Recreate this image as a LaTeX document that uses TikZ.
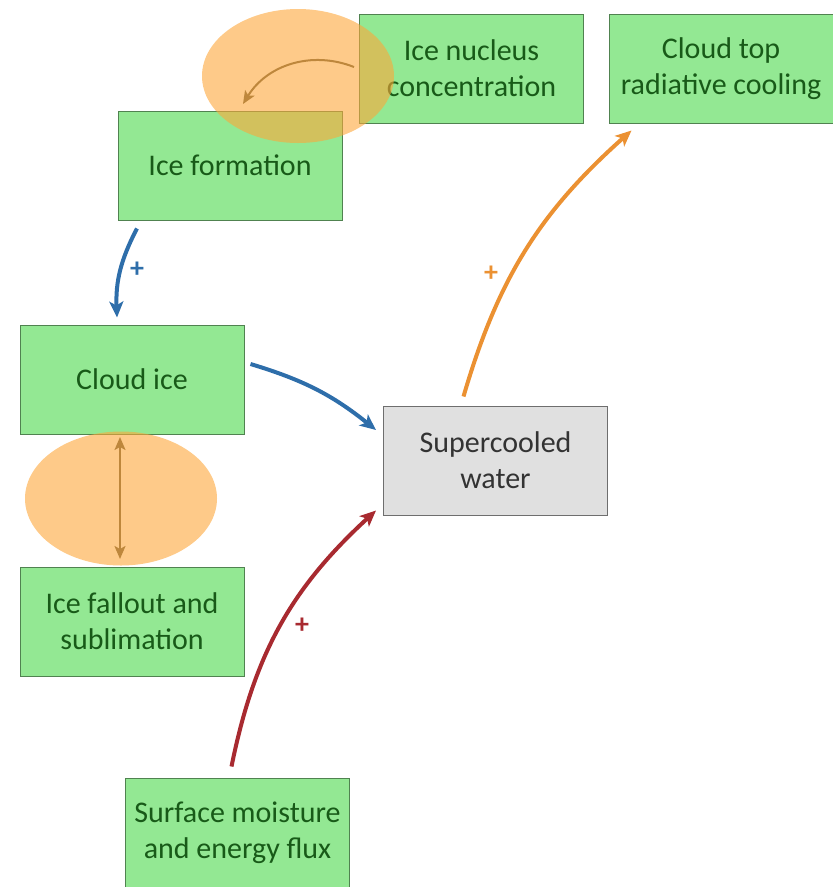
\documentclass[tikz,border=0pt]{standalone}
\usepackage{fontspec}
\setmainfont{Carlito}
\usetikzlibrary{arrows.meta}
\definecolor{boxgreen}{RGB}{147,232,147}
\definecolor{boxedge}{RGB}{80,130,80}
\definecolor{textgreen}{RGB}{24,90,24}
\definecolor{boxgray}{RGB}{224,224,224}
\definecolor{grayedge}{RGB}{110,110,110}
\definecolor{halo}{RGB}{253,167,58}
\definecolor{brownarr}{RGB}{190,135,60}
\definecolor{bluearr}{RGB}{46,110,170}
\definecolor{redarr}{RGB}{168,42,48}
\definecolor{orangearr}{RGB}{235,145,50}
\tikzset{
  varbox/.style={draw=boxedge, line width=1pt, fill=boxgreen, text=textgreen,
    minimum width=224pt, minimum height=109pt, align=center, inner sep=0pt,
    font=\fontsize{30}{36}\selectfont},
  waterbox/.style={varbox, draw=grayedge, fill=boxgray, text=black!80},
  link/.style={line width=4pt, -{Stealth[length=16pt,width=14pt,inset=4pt]}},
  thinlink/.style={line width=2pt, draw=brownarr},
  sign/.style={font=\fontsize{28}{28}\selectfont\bfseries, inner sep=0pt},
  haloshape/.style={fill=halo, fill opacity=0.6}
}
\begin{document}
\begin{tikzpicture}[x=1pt,y=-1pt]
\useasboundingbox (0,0) rectangle (833,887);

% variable boxes
\node[varbox] (nuc) at (471.5,68.5) {Ice nucleus\\concentration};
\node[varbox] (top) at (721,68.5) {Cloud top\\radiative cooling};
\node[varbox] (form) at (230,165.5) {Ice formation};
\node[varbox] (cice) at (132,379.5) {Cloud ice};
\node[varbox] (fall) at (132,621.5) {Ice fallout and\\sublimation};
\node[waterbox] (water) at (495.5,460.5) {Supercooled\\water};
\node[varbox] (surf) at (237.5,832.5) {Surface moisture\\and energy flux};

% highlighted process links
\fill[haloshape] (298,76) ellipse [x radius=96, y radius=67];
\fill[haloshape] (121,498.5) ellipse [x radius=96, y radius=67];

\coordinate (nucA) at (354,67);
\coordinate (formA) at (243,104);
\draw[thinlink, -{Stealth[length=13pt,width=11pt,inset=3pt]}] (nucA) to[bend right=40] (formA);
\coordinate (ciceA) at (120,437);
\coordinate (fallA) at (120,559);
\draw[thinlink, {Stealth[length=13pt,width=11pt,inset=3pt]}-{Stealth[length=13pt,width=11pt,inset=3pt]}] (ciceA) -- (fallA);

% causal links
\draw[link, bluearr] ([xshift=-93pt,yshift=-8pt]form.south) to[bend right=15] ([xshift=-15pt,yshift=7pt]cice.north);
\node[sign, text=bluearr] (p1) at (137,270) {+};

\draw[link, bluearr] ([xshift=6pt,yshift=15.5pt]cice.east) to[bend left=11] ([xshift=-7pt,yshift=30.5pt]water.west);

\draw[link, redarr] ([xshift=-6pt,yshift=11pt]surf.north) to[bend left=18] ([xshift=-7pt,yshift=-50pt]water.west);
\node[sign, text=redarr] (p2) at (302,626) {+};

\draw[link, orangearr] ([xshift=-32pt,yshift=9pt]water.north) to[bend left=16] ([xshift=23pt,yshift=-7pt]top.south west);
\node[sign, text=orangearr] (p3) at (491,274) {+};
\end{tikzpicture}
\end{document}
